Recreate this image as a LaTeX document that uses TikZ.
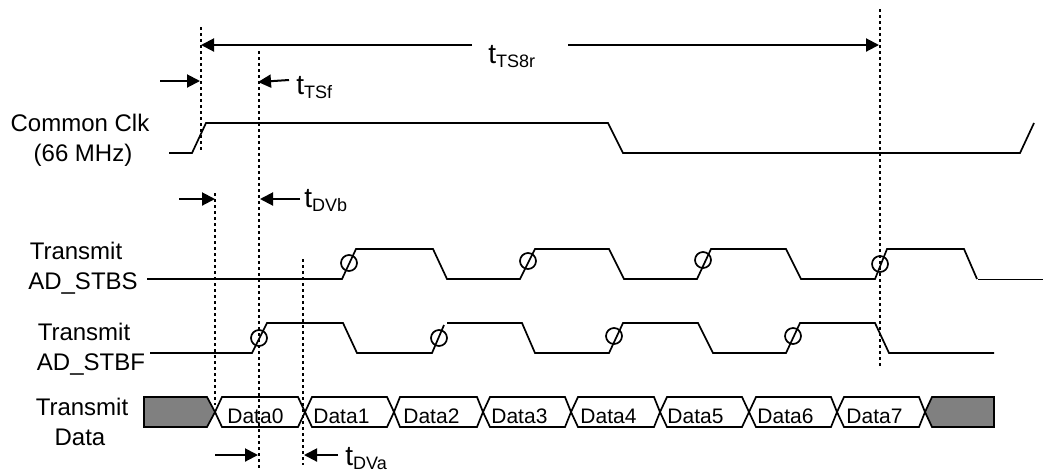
\documentclass[tikz,border=0pt]{standalone}
\usepackage{fontspec}
\setmainfont{Liberation Sans}
\usetikzlibrary{arrows.meta}
\newcommand{\timelabel}[1]{{\fontsize{14}{14}\selectfont t}\raisebox{-2.4pt}{\fontsize{9}{9}\selectfont #1}}

\begin{document}
\begin{tikzpicture}
      [x = 0.5pt,
      y = -0.5pt,
      signal/.style={line width = 0.85pt},
      guide/.style={line width = 0.85pt, dash pattern = on 1.5pt off 1.5pt},
      dim/.style={line width = 1pt, -{Triangle[length = 6.5pt, width = 6.5pt]}},
      name label/.style={anchor = base, inner sep = 0pt, font = \fontsize{12}{12}\selectfont},
      time label/.style={anchor = base west, inner sep = 0pt},
      data label/.style={anchor = base west, inner sep = 0pt, font = \fontsize{10.5}{10.5}\selectfont}]

      \useasboundingbox (0, 0) rectangle (1047, 472);

      \foreach \name/\x/\y in {ts8rleft/201/45, ts8rleftfree/472/45, ts8rright/879/45, ts8rrightfree/568/45,
            tsfleft/200/81, tsfleftfree/160/81, tsfright/258/82, tsfrightfree/289/80,
            dvbleft/215/199, dvbleftfree/179/199, dvbright/260/199, dvbrightfree/300/199,
            dvaleft/258/455, dvaleftfree/215/455, dvaright/304/455, dvarightfree/338/455}
         \coordinate (\name) at (\x, \y);

      \draw[guide] (201, 27) -- (201, 151);
      \draw[guide] (259, 51) -- (259, 469);
      \draw[guide] (215, 193) -- (215, 405);
      \draw[guide] (303, 259) -- (303, 465);
      \draw[guide] (880, 9) -- (880, 367);

      \draw[dim] (ts8rleftfree) -- (ts8rleft);
      \draw[dim] (ts8rrightfree) -- (ts8rright);
      \draw[dim] (tsfleftfree) -- (tsfleft);
      \draw[dim] (tsfrightfree) -- (tsfright);
      \draw[dim] (dvbleftfree) -- (dvbleft);
      \draw[dim] (dvbrightfree) -- (dvbright);
      \draw[dim] (dvaleftfree) -- (dvaleft);
      \draw[dim] (dvarightfree) -- (dvaright);

      \node[time label] (ts8r) at (488, 63) {\timelabel{TS8r}};
      \node[time label] (tsf) at (296, 94) {\timelabel{TSf}};
      \node[time label] (dvb) at (304, 207) {\timelabel{DVb}};
      \node[time label] (dva) at (345, 465) {\timelabel{DVa}};

      \node[name label] (clkname) at (80, 131) {Common Clk};
      \node[name label] (clkrate) at (83, 161) {(66 MHz)};
      \node[name label] (stbsa) at (76, 259) {Transmit};
      \node[name label] (stbsb) at (83, 289) {AD\_STBS};
      \node[name label] (stbfa) at (84, 340) {Transmit};
      \node[name label] (stbfb) at (91, 370) {AD\_STBF};
      \node[name label] (dataa) at (82, 415) {Transmit};
      \node[name label] (datab) at (80, 445) {Data};

      \draw[signal] (169, 153) -- (192, 153) -- (206, 123) -- (608, 123) -- (623, 153)
         -- (1020, 153) -- (1034, 123);

      \draw[signal] (147, 279) -- (342, 279) -- (356, 249) -- (433, 249) -- (447, 279)
         -- (520, 279) -- (535, 249) -- (609, 249) -- (624, 279)
         -- (697, 279) -- (711, 249) -- (786, 249) -- (801, 279)
         -- (875, 279) -- (887, 249) -- (964, 249) -- (977, 279);
      \draw[line width = 0.4pt] (978, 279.5) -- (1043, 279.5);

      \draw[signal] (150, 353) -- (252, 353) -- (267, 323) -- (343, 323) -- (357, 353)
         -- (432, 353) -- (444, 325);
      \draw[signal] (447, 323) -- (522, 323) -- (535, 353)
         -- (609, 353) -- (623, 323) -- (698, 323) -- (713, 353)
         -- (786, 353) -- (800, 323) -- (875, 323) -- (889, 353) -- (994, 353);

      \foreach \cx/\cy in {349/263, 528/261, 703/260, 880/264, 259/338, 439/338, 614/336, 793/336}
         \draw[signal] (\cx, \cy) circle [radius = 4pt];

      \draw[signal, fill = gray] (144, 397) -- (207, 397) -- (215, 412) -- (207, 427) -- (144, 427) -- cycle;
      \draw[signal, fill = gray] (994, 397) -- (932, 397) -- (925, 412) -- (932, 427) -- (994, 427) -- cycle;

      \foreach \i/\tipa/\l/\r/\tipb/\tx in {0/215/222/298/305/227, 1/305/312/387/394/313, 2/394/400/477/483/403,
            3/483/490/565/571/491, 4/571/578/654/660/580, 5/660/667/742/749/667,
            6/749/756/831/837/757, 7/837/844/919/925/846} {
         \draw[signal] (\tipa, 412) -- (\l, 397) -- (\r, 397) -- (\tipb, 412) -- (\r, 427) -- (\l, 427) -- cycle;
         \node[data label] (data\i) at (\tx, 423) {Data\i};
      }

   \end{tikzpicture}
\end{document}
